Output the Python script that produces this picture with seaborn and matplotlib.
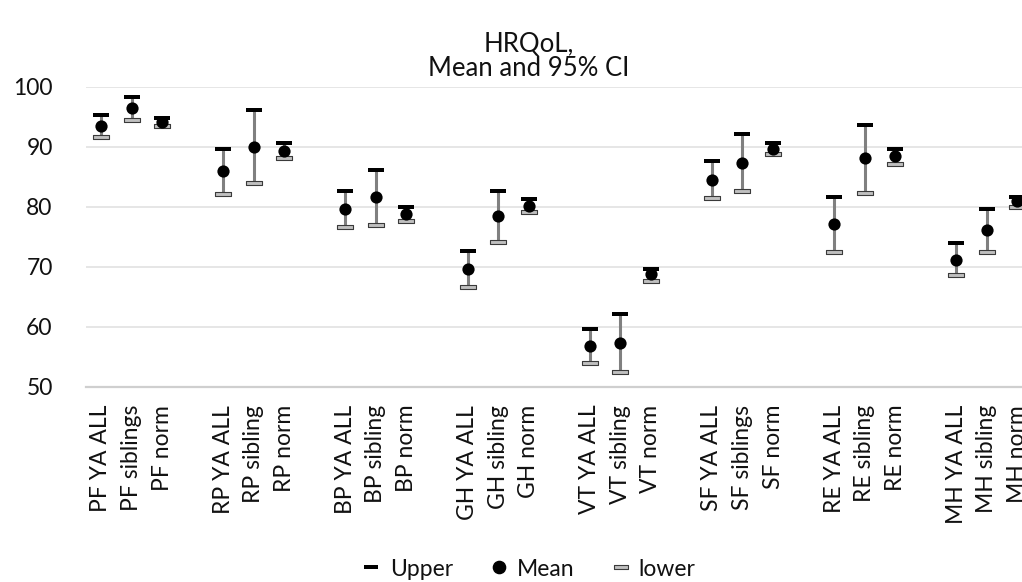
import matplotlib
matplotlib.use("Agg")
import matplotlib.pyplot as plt
from matplotlib.path import Path
from matplotlib.lines import Line2D
import seaborn as sns
import pandas as pd

# ---- data ----
groups = ["PF", "RP", "BP", "GH", "VT", "SF", "RE", "MH"]
labels = [
    "PF YA ALL", "PF siblings", "PF norm",
    "RP YA ALL", "RP sibling", "RP norm",
    "BP YA ALL", "BP sibling", "BP norm",
    "GH YA ALL", "GH sibling", "GH norm",
    "VT YA ALL", "VT sibling", "VT norm",
    "SF YA ALL", "SF siblings", "SF norm",
    "RE YA ALL", "RE sibling", "RE norm",
    "MH YA ALL", "MH sibling", "MH norm",
]
upper = [95.3, 98.3, 94.8, 89.6, 96.05, 90.6, 82.6, 86.2, 79.9,
         72.7, 82.6, 81.3, 59.7, 62.05, 69.7, 87.55, 92.05, 90.6,
         81.55, 93.7, 89.7, 73.9, 79.7, 81.7]
mean = [93.4, 96.4, 94.1, 85.95, 90.0, 89.3, 79.6, 81.55, 78.8,
        69.55, 78.4, 80.2, 56.8, 57.3, 68.8, 84.5, 87.3, 89.7,
        77.1, 88.1, 88.4, 71.2, 76.05, 80.9]
lower = [91.6, 94.45, 93.45, 82.1, 84.0, 88.1, 76.6, 76.9, 77.7,
         66.55, 74.05, 79.2, 53.95, 52.5, 67.7, 81.5, 82.7, 88.8,
         72.5, 82.3, 87.2, 68.65, 72.4, 80.0]
yticks = [50, 60, 70, 80, 90, 100]

# category slot positions: 3 per group plus a blank slot between groups
pos = [g * 4 + i for g in range(len(groups)) for i in range(3)]
df = pd.DataFrame({"pos": pos, "label": labels, "upper": upper,
                   "mean": mean, "lower": lower})

sns.set_style("white")
plt.rcParams["font.family"] = ["Lato", "DejaVu Sans"]

fig = plt.figure(figsize=(10.22, 5.82), dpi=100)
ax = fig.add_axes([86 / 1022, 1 - 386.7 / 582, 1 - 86 / 1022, (386.7 - 86.7) / 582])

bar_marker = Path([(-1, -0.22), (1, -0.22), (1, 0.22), (-1, 0.22), (-1, -0.22)],
                  [Path.MOVETO, Path.LINETO, Path.LINETO, Path.LINETO, Path.CLOSEPOLY])

# high-low lines
ax.vlines(df["pos"], df["lower"], df["upper"], color="#808080", lw=2.2, zorder=2)

sns.scatterplot(data=df, x="pos", y="upper", marker=bar_marker, s=11 ** 2,
                color="black", edgecolor="black", linewidth=0, ax=ax, zorder=3,
                legend=False)
sns.scatterplot(data=df, x="pos", y="lower", marker=bar_marker, s=11 ** 2,
                color="#c0c0c0", edgecolor="#3a3a3a", linewidth=0.8, ax=ax,
                zorder=3, legend=False)
sns.scatterplot(data=df, x="pos", y="mean", marker="o", s=8.8 ** 2,
                color="black", edgecolor="black", linewidth=0, ax=ax, zorder=4,
                legend=False)

ax.set_xlim(-0.49, 30.15)
ax.set_ylim(50, 100)
ax.set_yticks(yticks)
ax.set_yticklabels([str(t) for t in yticks], fontsize=16.5, color="#111111")
ax.set_xticks(df["pos"])
ax.set_xticklabels(df["label"], rotation=90, fontsize=16.5, color="#111111")
ax.tick_params(axis="y", length=0, pad=24)
ax.tick_params(axis="x", length=0, pad=13)
ax.set_xlabel("")
ax.set_ylabel("")

ax.grid(axis="y", color="#e2e2e2", lw=1.2)
ax.grid(axis="x", visible=False)
for side in ["left", "right", "top"]:
    ax.spines[side].set_visible(False)
ax.spines["bottom"].set_color("#cfcfcf")
ax.spines["bottom"].set_linewidth(1.6)
ax.set_axisbelow(True)

# title
cx = 529 / 1022
fig.text(cx, 1 - 44 / 582, "HRQoL,", ha="center", va="center", fontsize=18.5,
         color="#111111")
fig.text(cx, 1 - 68 / 582, "Mean and 95% CI", ha="center", va="center",
         fontsize=18.5, color="#111111")

# legend
handles = [
    Line2D([], [], ls="none", marker=bar_marker, markersize=10,
           markerfacecolor="black", markeredgecolor="black", markeredgewidth=0),
    Line2D([], [], ls="none", marker="o", markersize=8.8,
           markerfacecolor="black", markeredgecolor="black"),
    Line2D([], [], ls="none", marker=bar_marker, markersize=10,
           markerfacecolor="#c0c0c0", markeredgecolor="#3a3a3a",
           markeredgewidth=0.8),
]
fig.legend(handles, ["Upper", "Mean", "lower"], loc="center",
           bbox_to_anchor=(cx, 1 - 569 / 582), ncol=3, frameon=False,
           fontsize=16.5, handlelength=0.8, handletextpad=0.4,
           columnspacing=1.6, labelcolor="#111111")

fig.savefig("out.png", dpi=100)
